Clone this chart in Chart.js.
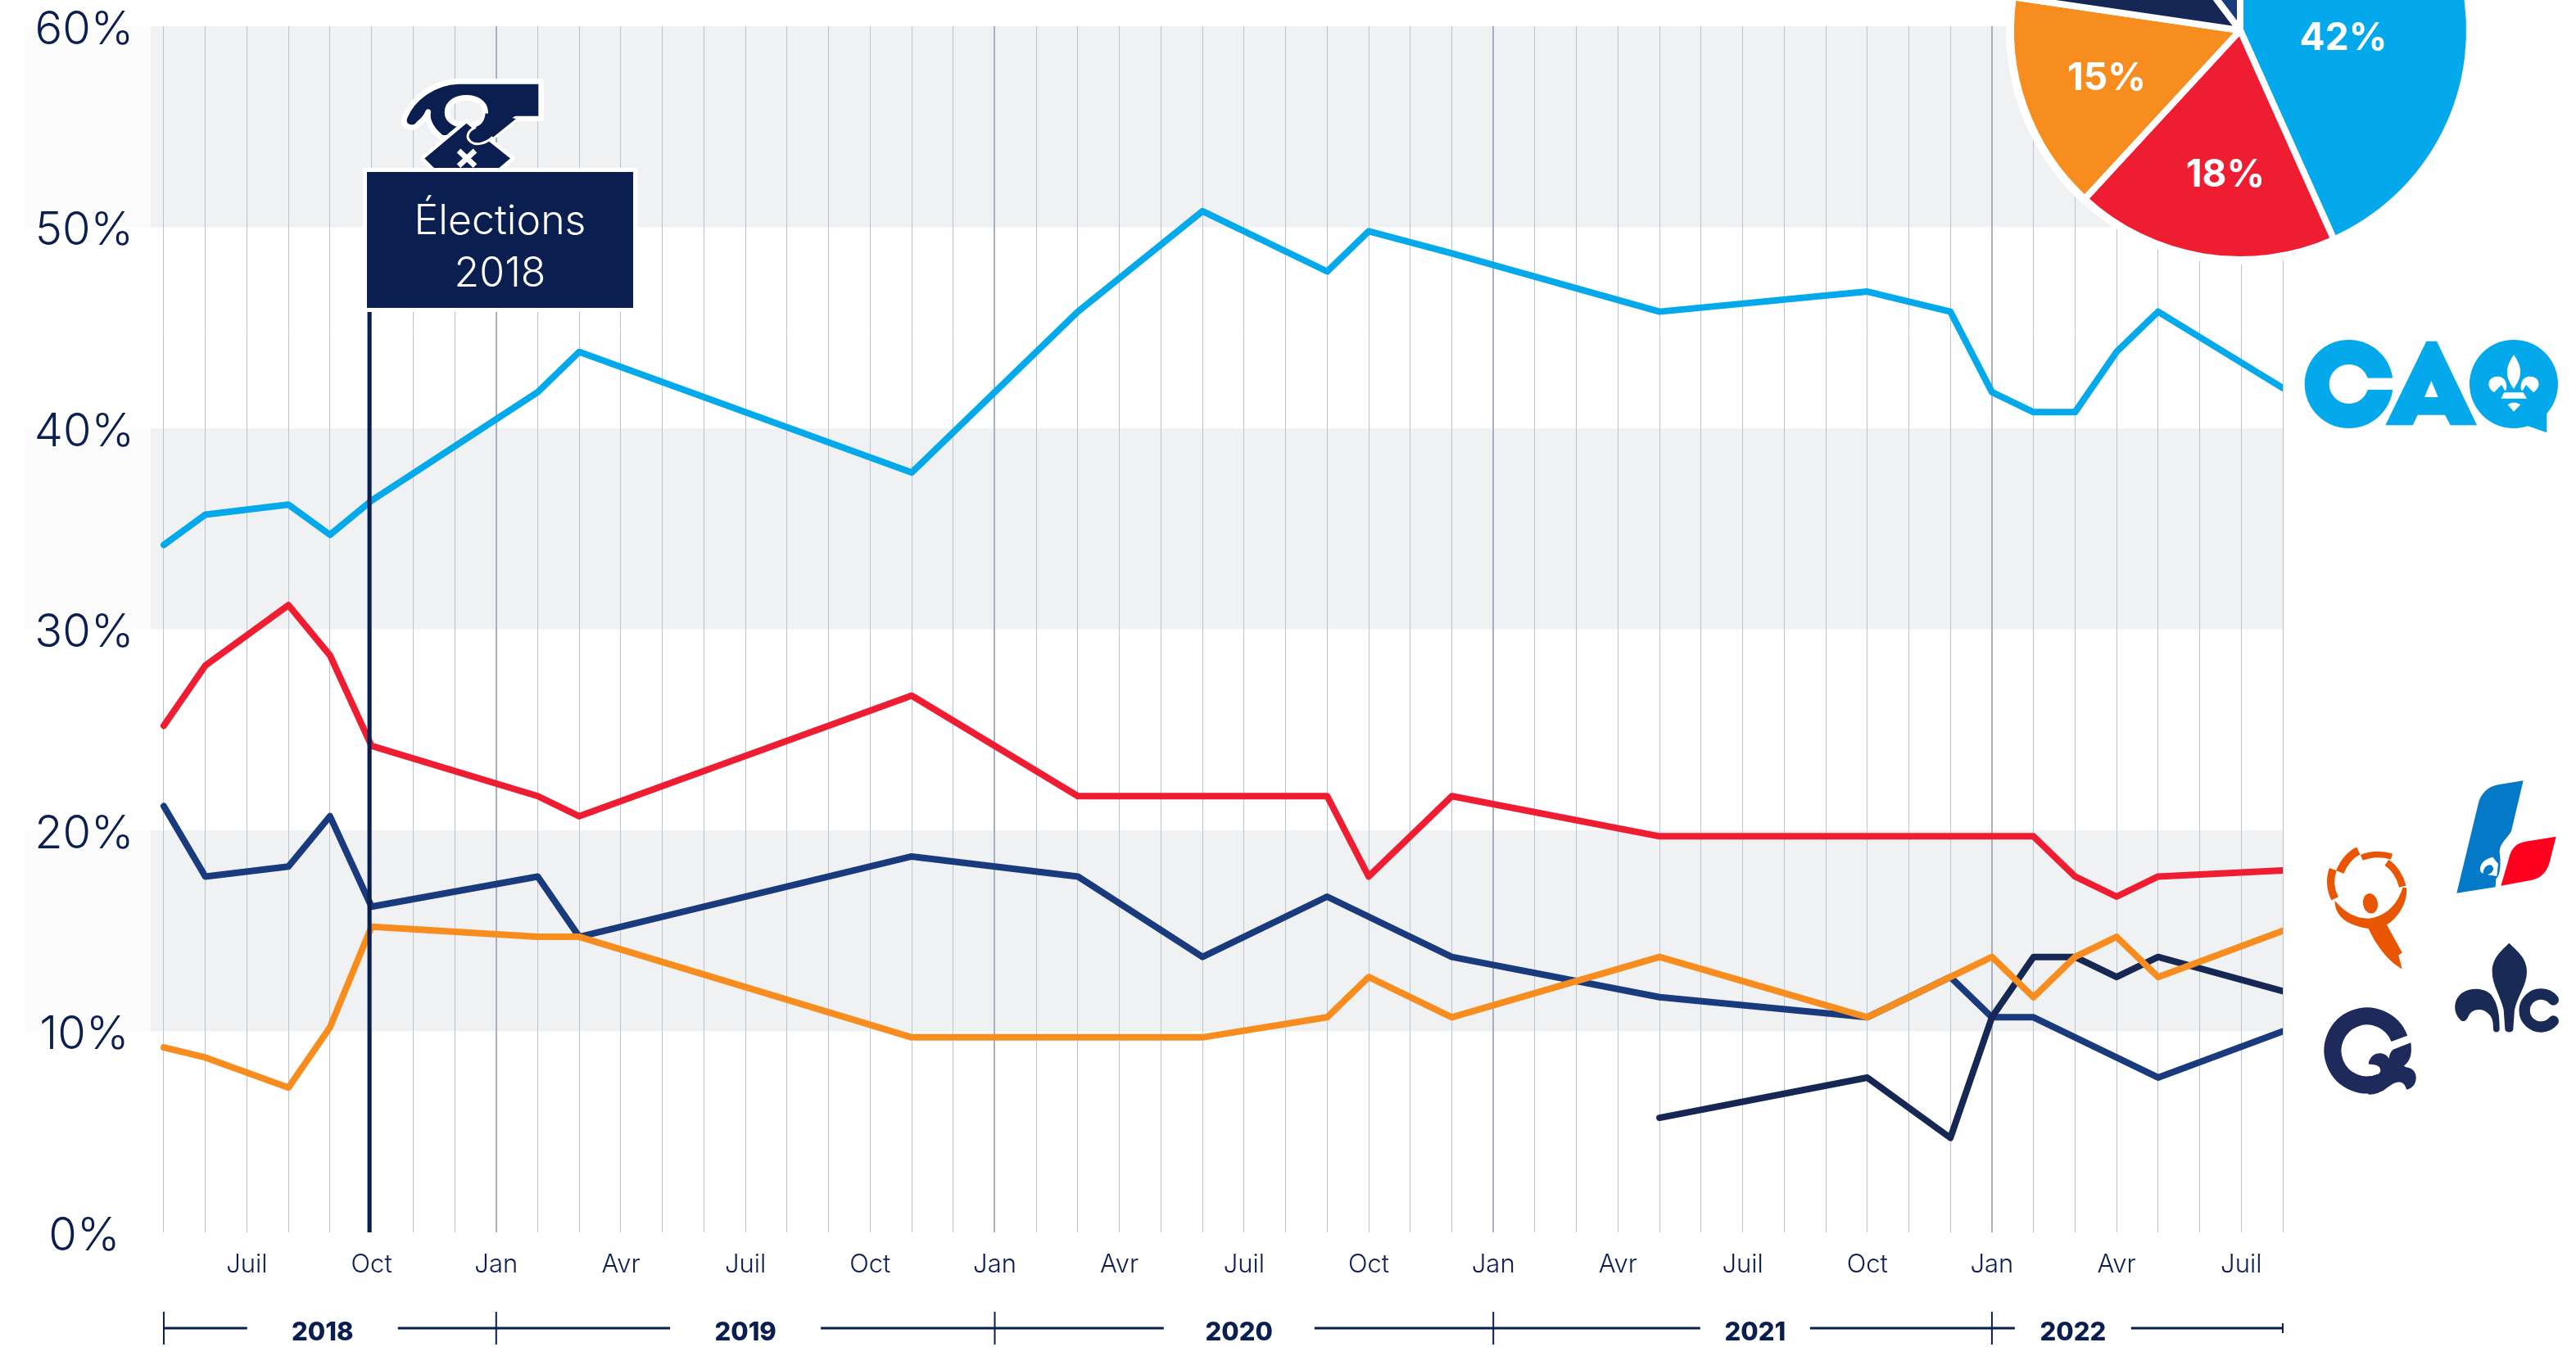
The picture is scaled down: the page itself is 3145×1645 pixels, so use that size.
<!DOCTYPE html>
<html lang="fr">
<head>
<meta charset="utf-8">
<title>Intentions de vote</title>
<script src="https://cdn.jsdelivr.net/npm/chart.js@4/dist/chart.umd.min.js"></script>
<style>
    html, body { margin: 0; padding: 0; background: #fff; width: 3145px; height: 1645px; overflow: hidden; }
    canvas, svg, #elections { position: absolute; }
    #graphique { left: 0; top: 0; }
    #tarte { left: 2435px; top: -263px; }
    #main { left: 470px; top: 80px; }
    #logoCaq { left: 2800px; top: 390px; }
    #logos { left: 2820px; top: 940px; }
    #elections {
        left: 443px; top: 205px; width: 335px; height: 176px; box-sizing: border-box;
        border: 5px solid #fff; background: #0a1e50; color: #fff; text-align: center;
        font: 300 50px/64px Inter, sans-serif; padding-top: 26px;
    }
</style>
</head>
<body>
<canvas id="graphique" width="3145" height="1645"></canvas>
<canvas id="tarte" width="600" height="600"></canvas>

<svg id="main" width="220" height="140" viewBox="0 0 660 420">
    <path fill="#0a1e50" fill-rule="evenodd" stroke="#fff" stroke-width="20" stroke-linejoin="round"
        d="M572 58 L270 58 C180 60 100 120 72 190 C60 225 105 240 125 212 C140 200 152 185 158 170 C152 205 175 240 208 265 L390 265 L480 195 L572 195 Z
           M228 172 C228 100 368 100 368 172 C368 235 228 235 228 172 Z"/>
    <path fill="#0a1e50" stroke="#fff" stroke-width="14" stroke-linejoin="round"
        d="M135 340 L298 203 L470 340 L400 400 L195 400 Z"/>
    <path fill="#0a1e50" d="M480 195 L390 268 C370 285 335 295 315 280 C295 265 300 240 330 228 C350 222 365 205 368 175 Z"/>
    <path fill="none" stroke="#fff" stroke-width="9" d="M395 262 C370 285 335 295 315 280 C295 265 300 240 332 226"/>
    <path fill="none" stroke="#fff" stroke-width="20" d="M270 312 L330 368 M330 312 L270 368"/>
</svg>
<div id="elections">Élections<br>2018</div>

<svg id="logoCaq" width="345" height="160" viewBox="0 0 1035 480">
    <circle cx="203" cy="237" r="162" fill="#03a9ea"/>
    <circle cx="203" cy="237" r="72" fill="#fff"/>
    <rect x="265" y="215" width="110" height="43" fill="#fff"/>
    <path fill="#03a9ea" fill-rule="evenodd" d="M487 80 L525 80 L672 388 L575 388 L555 350 L455 350 L437 388 L337 388 Z M505 225 L480 285 L530 285 Z"/>
    <circle cx="807" cy="237" r="162" fill="#03a9ea"/>
    <path fill="#03a9ea" d="M928 330 L928 415 L850 388 Z"/>
    <path fill="#fff" d="M807 130 C770 185 780 215 807 255 C834 215 845 185 807 130 Z
        M735 268 C700 245 715 205 755 210 C785 215 785 260 775 262 L762 240 Z
        M879 268 C914 245 899 205 859 210 C829 215 829 260 839 262 L852 240 Z
        M772 268 L842 268 L855 290 L760 290 Z
        M785 312 L800 305 L815 305 L832 312 L807 338 Z"/>
</svg>

<svg id="logos" width="325" height="410" viewBox="0 0 975 1230">
    <path fill="#0479c8" d="M782 40 L690 55 C650 62 625 90 617 125 L538 452 L680 430 L682 400 C700 385 700 340 695 300 C695 270 725 250 738 225 Z"/>
    <path fill="#fff" d="M670 320 C620 330 615 375 635 380 C635 360 650 345 665 350 C680 360 670 380 650 385 L685 390 L690 345 Z"/>
    <path fill="#ff001f" d="M902 245 L790 263 C750 270 735 295 728 330 L700 425 L810 405 C850 398 870 370 878 340 Z"/>

    <g fill="none" stroke="#e85604">
        <path stroke-width="28" d="M85 365 C72 400 75 440 92 472"/>
        <path stroke-width="30" d="M110 375 C125 340 150 310 178 297"/>
        <path stroke-width="22" d="M190 322 C225 308 265 308 300 318"/>
        <path stroke-width="26" d="M282 340 C310 360 330 390 340 428"/>
    </g>
    <path fill="#e85604" d="M92 480 C130 525 170 545 215 545 C270 540 320 500 340 432 L354 432 C360 490 320 545 282 568 L338 670 L325 680 L338 730 C300 710 250 660 215 582 C130 570 90 530 92 480 Z"/>
    <ellipse cx="222" cy="490" rx="27" ry="37" transform="rotate(-10 222 490)" fill="#e85604"/>

    <path fill="#192a55" d="M730 635 C700 665 668 690 668 740 C668 790 700 830 710 880 L715 950 C716 965 745 965 745 950 L750 880 C760 830 795 790 795 740 C795 690 760 665 730 635 Z
        M672 950 C672 965 695 965 695 950 C695 900 690 860 665 825 C640 800 590 795 555 820 C525 845 525 890 550 915 C565 930 575 915 580 905 C590 880 625 870 650 890 C670 905 672 925 672 950 Z"/>
    <path fill="none" stroke="#192a55" stroke-width="40" stroke-linecap="round" d="M892 843 A60 60 0 1 0 892 921"/>

    <path fill="none" stroke="#1e2a5c" stroke-width="63" d="M328 985 A126 126 0 1 0 261 1144"/>
    <path fill="#1e2a5c" d="M370 1000 L305 1025 C290 1040 292 1050 290 1058 C275 1030 225 1030 215 1075 C215 1085 240 1075 255 1090 C270 1115 240 1125 200 1125 L215 1190 C270 1190 290 1150 320 1145 C345 1140 350 1160 355 1172 C395 1165 400 1110 370 1095 C360 1090 350 1090 345 1085 C370 1065 375 1040 370 1000 Z"/>
</svg>

<script>
// mai 2018 a aout 2022, un point par mois, null = pas de sondage ce mois-la
const moisLabels = ["", "", "Juil", "", "", "Oct", "", "", "Jan", "", "", "Avr", "", "", "Juil", "", "", "Oct", "", "",
    "Jan", "", "", "Avr", "", "", "Juil", "", "", "Oct", "", "", "Jan", "", "", "Avr", "", "", "Juil", "", "", "Oct", "", "",
    "Jan", "", "", "Avr", "", "", "Juil", ""];
const moisIndex = moisLabels.map((m, i) => i);

const caq = [34.2, 35.7, null, 36.2, 34.7, 36.4, null, null, null, 41.8, 43.8, null, null, null, null, null, null, null, 37.8, null, null, null,
    45.8, null, null, 50.8, null, null, 47.8, 49.8, null, 48.7, null, null, null, null, 45.8, null, null, null, null, 46.8, null, 45.8,
    41.8, 40.8, 40.8, 43.8, 45.8, null, null, 42];
const plq = [25.2, 28.2, null, 31.2, 28.7, 24.2, null, null, null, 21.7, 20.7, null, null, null, null, null, null, null, 26.7, null, null, null,
    21.7, null, null, null, null, null, 21.7, 17.7, null, 21.7, null, null, null, null, 19.7, null, null, null, null, null, null, null,
    null, 19.7, 17.7, 16.7, 17.7, null, null, 18];
const pq = [21.2, 17.7, null, 18.2, 20.7, 16.2, null, null, null, 17.7, 14.7, null, null, null, null, null, null, null, 18.7, null, null, null,
    17.7, null, null, 13.7, null, null, 16.7, null, null, 13.7, null, null, null, null, 11.7, null, null, null, null, 10.7, null, 12.7,
    10.7, 10.7, null, null, 7.7, null, null, 10];
const qs = [9.2, 8.7, null, 7.2, 10.2, 15.2, null, null, null, 14.7, 14.7, null, null, null, null, null, null, null, 9.7, null, null, null,
    null, null, null, 9.7, null, null, 10.7, 12.7, null, 10.7, null, null, null, null, 13.7, null, null, null, null, 10.7, null, 12.7,
    13.7, 11.7, 13.7, 14.7, 12.7, null, null, 15];
const pcq = [null, null, null, null, null, null, null, null, null, null, null, null, null, null, null, null, null, null, null, null, null, null,
    null, null, null, null, null, null, null, null, null, null, null, null, null, null, 5.7, null, null, null, null, 7.7, null, 4.7,
    10.7, 13.7, 13.7, 12.7, 13.7, null, null, 12];

const partis = ["CAQ", "PLQ", "QS", "PCQ", "PQ"];
const partisValeurs = [42, 18, 15, 12, 10];
const partisCouleurs = ["#03a9ea", "#ef1d31", "#f78d1e", "#172754", "#1a3a7e"];

const annees = ["2018", "2019", "2020", "2021", "2022"];
const anneesCentre = [3.82, 14, 25.88, 38.3, 45.95];
const anneesDemiVide = [92, 92, 92, 67, 71];
const anneesBornes = [0, 8, 20, 32, 44, 51];
const moisElections = 4.95;

const bandes = [[50, 60], [30, 40], [10, 20]];
const marine = "#0a1e50";
const police = "Inter, sans-serif";

function serie(nom, data, couleur, ordre) {
    return {
        label: nom,
        data: data,
        borderColor: couleur,
        borderWidth: 8,
        borderCapStyle: "round",
        borderJoinStyle: "round",
        pointRadius: 0,
        spanGaps: true,
        tension: 0,
        order: ordre
    };
}

const pluginFond = {
    id: "fond",
    beforeDraw(chart) {
        const ctx = chart.ctx, y = chart.scales.y, area = chart.chartArea;
        bandes.forEach(b => {
            const haut = y.getPixelForValue(b[1]), bas = y.getPixelForValue(b[0]);
            ctx.fillStyle = "#fbfbfc";
            ctx.fillRect(30, haut, area.left - 30, bas - haut);
            ctx.fillStyle = "#f0f1f3";
            ctx.fillRect(area.left, haut, area.right - area.left, bas - haut);
        });
    },
    afterDatasetsDraw(chart) {
        const ctx = chart.ctx, x = chart.scales.x, y = chart.scales.y;
        ctx.save();
        // ligne des elections
        ctx.fillStyle = marine;
        ctx.fillRect(x.getPixelForValue(moisElections) - 2.5, 370, 5, y.getPixelForValue(0) - 370);

        // regle des annees sous l'axe
        const yRegle = 1622;
        const depart = x.getPixelForValue(anneesBornes[0]), fin = x.getPixelForValue(anneesBornes[anneesBornes.length - 1]);
        ctx.fillStyle = marine;
        let debut = depart;
        annees.forEach((a, i) => {
            const c = x.getPixelForValue(anneesCentre[i]);
            ctx.fillRect(debut, yRegle - 1.5, c - anneesDemiVide[i] - debut, 3);
            debut = c + anneesDemiVide[i];
            ctx.font = "800 31px " + police;
            ctx.textAlign = "center";
            ctx.textBaseline = "middle";
            ctx.fillText(a, c, 1628);
        });
        ctx.fillRect(debut, yRegle - 1.5, fin - debut, 3);
        anneesBornes.forEach((b, i) => {
            const px = x.getPixelForValue(b);
            const demi = i === anneesBornes.length - 1 ? 6 : 20;
            ctx.fillRect(px - 1, yRegle - demi, 2, demi * 2);
        });
        ctx.restore();
    }
};

new Chart(document.querySelector("#graphique"), {
    type: "line",
    data: {
        labels: moisIndex,
        datasets: [
            serie("QS", qs, "#f78d1e", 1),
            serie("PQ", pq, "#1a3a7e", 3),
            serie("PCQ", pcq, "#172754", 2),
            serie("PLQ", plq, "#ef1d31", 4),
            serie("CAQ", caq, "#03a9ea", 5)
        ]
    },
    options: {
        responsive: false,
        animation: false,
        layout: { padding: { left: 0, right: 358, top: 32, bottom: 0 } },
        plugins: { legend: { display: false }, tooltip: { enabled: false } },
        scales: {
            x: {
                type: "linear",
                min: -0.315,
                max: 51,
                border: { display: false },
                afterBuildTicks: scale => { scale.ticks = moisIndex.map(i => ({ value: i })); },
                afterFit: scale => { scale.height = 140; },
                grid: {
                    drawTicks: false,
                    color: ctx => moisLabels[ctx.tick.value] === "Jan" ? "#a8b0c0" : "#bcc3d0",
                    lineWidth: ctx => moisLabels[ctx.tick.value] === "Jan" ? 2 : 1
                },
                ticks: {
                    autoSkip: false,
                    maxRotation: 0,
                    padding: 21,
                    color: marine,
                    font: { family: police, size: 31, weight: "300" },
                    callback: v => moisLabels[v]
                }
            },
            y: {
                min: 0,
                max: 60,
                border: { display: false },
                afterFit: scale => {
                    scale.width = 184;
                    scale.paddingTop = 0;
                    scale.paddingBottom = 0;
                },
                grid: { display: false },
                ticks: {
                    stepSize: 10,
                    crossAlign: "center",
                    padding: 12,
                    labelOffset: 5,
                    color: marine,
                    font: { family: police, size: 56, weight: "300", lineHeight: 1 },
                    callback: v => v + "%"
                }
            }
        }
    },
    plugins: [pluginFond]
});

// position du texte par rapport au centre de la tarte
const etiquettes = { 0: [126, 10], 1: [-18, 177], 2: [-163, 59] };

const pluginTarte = {
    id: "tarteFond",
    beforeDatasetsDraw(chart) {
        const arc = chart.getDatasetMeta(0).data[0];
        const ctx = chart.ctx;
        ctx.fillStyle = "#fff";
        ctx.beginPath();
        ctx.arc(arc.x, arc.y, arc.outerRadius + 6, 0, Math.PI * 2);
        ctx.fill();
    },
    afterDatasetsDraw(chart) {
        const arcs = chart.getDatasetMeta(0).data;
        const ctx = chart.ctx;
        ctx.save();
        ctx.fillStyle = "#fff";
        ctx.font = "700 46px " + police;
        ctx.textAlign = "center";
        ctx.textBaseline = "middle";
        Object.keys(etiquettes).forEach(i => {
            ctx.fillText(partisValeurs[i] + "%", arcs[i].x + etiquettes[i][0], arcs[i].y + etiquettes[i][1]);
        });
        ctx.restore();
    }
};

new Chart(document.querySelector("#tarte"), {
    type: "pie",
    data: {
        labels: partis,
        datasets: [{
            data: partisValeurs,
            backgroundColor: partisCouleurs,
            borderColor: "#fff",
            borderWidth: 8
        }]
    },
    options: {
        responsive: false,
        animation: false,
        radius: 280,
        plugins: { legend: { display: false }, tooltip: { enabled: false } }
    },
    plugins: [pluginTarte]
});
</script>
</body>
</html>
